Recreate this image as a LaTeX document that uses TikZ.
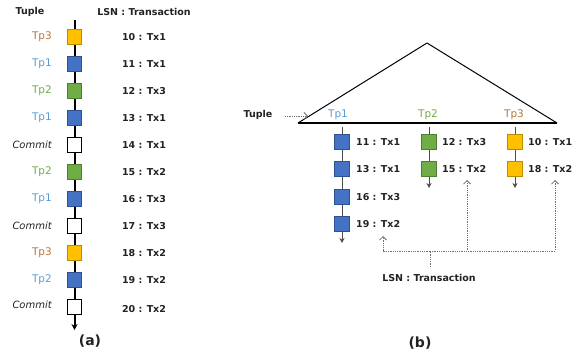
\documentclass[tikz,border=0pt]{standalone}
\usepackage{fontspec}
\setmainfont{DejaVu Sans}
\usetikzlibrary{arrows.meta}
\definecolor{txt}{HTML}{222222}
\definecolor{bfill}{HTML}{4472C4}\definecolor{bdraw}{HTML}{2F528F}
\definecolor{gfill}{HTML}{70AD47}\definecolor{gdraw}{HTML}{507E32}
\definecolor{yfill}{HTML}{FFC000}\definecolor{ydraw}{HTML}{BC8C00}
\definecolor{tpone}{HTML}{5B9BD5}
\definecolor{tptwo}{HTML}{70AD47}
\definecolor{tpthree}{HTML}{B8753E}
\definecolor{dotc}{HTML}{707070}
\tikzset{
  box/.style={minimum width=14.5pt,minimum height=14.5pt,inner sep=0pt,line width=0.6pt},
  bbox/.style={box,fill=bfill,draw=bdraw},
  gbox/.style={box,fill=gfill,draw=gdraw},
  ybox/.style={box,fill=yfill,draw=ydraw},
  wbox/.style={box,fill=white,draw=black,line width=0.8pt},
  bold/.style={font=\fontsize{9.5}{11}\selectfont\bfseries,text=txt,inner sep=0pt},
  tplab/.style={font=\fontsize{10.5}{12}\selectfont,inner sep=0pt,anchor=east},
  cmlab/.style={font=\fontsize{10}{12}\selectfont\itshape,text=txt,inner sep=0pt,anchor=east},
  lsn/.style={bold,anchor=center},
  blsn/.style={bold,anchor=west},
  captext/.style={font=\fontsize{14}{16}\selectfont\bfseries,text=txt,inner sep=0pt},
  col/.style={draw=black!70,line width=0.8pt,-{Stealth[length=5pt,width=5pt]}},
  dotarrow/.style={draw=dotc,densely dotted,line width=0.8pt,-{Straight Barb[length=3.5pt,width=7pt]}},
  dotline/.style={draw=dotc,densely dotted,line width=0.8pt}
}
\begin{document}
\begin{tikzpicture}[x=1pt,y=-1pt]
\useasboundingbox (0,0) rectangle (577,356);
% ---------- panel (a)
\node[bold] (atuple) at (30,12) {Tuple};
\node[bold] (alsnh) at (144,12) {LSN : Transaction};
\coordinate (atop) at (74.5,20);
\coordinate (abot) at (74.5,330);
\draw[line width=2pt,-{Stealth[length=6pt,width=6pt]}] (atop) -- (abot);
% rows
\node[ybox] (a1) at (74.5,37) {};  \node[tplab,text=tpthree] (l1) at (52,37) {Tp3};  \node[lsn] (t1) at (144,37) {10 : Tx1};
\node[bbox] (a2) at (74.5,64) {};  \node[tplab,text=tpone] (l2) at (52,64) {Tp1};    \node[lsn] (t2) at (144,64) {11 : Tx1};
\node[gbox] (a3) at (74.5,91) {};  \node[tplab,text=tptwo] (l3) at (52,91) {Tp2};    \node[lsn] (t3) at (144,91) {12 : Tx3};
\node[bbox] (a4) at (74.5,118) {}; \node[tplab,text=tpone] (l4) at (52,118) {Tp1};   \node[lsn] (t4) at (144,118) {13 : Tx1};
\node[wbox] (a5) at (74.5,145) {}; \node[cmlab] (l5) at (52,145) {Commit};          \node[lsn] (t5) at (144,145) {14 : Tx1};
\node[gbox] (a6) at (74.5,172) {}; \node[tplab,text=tptwo] (l6) at (52,172) {Tp2};   \node[lsn] (t6) at (144,172) {15 : Tx2};
\node[bbox] (a7) at (74.5,199) {}; \node[tplab,text=tpone] (l7) at (52,199) {Tp1};   \node[lsn] (t7) at (144,199) {16 : Tx3};
\node[wbox] (a8) at (74.5,226) {}; \node[cmlab] (l8) at (52,226) {Commit};          \node[lsn] (t8) at (144,226) {17 : Tx3};
\node[ybox] (a9) at (74.5,253) {}; \node[tplab,text=tpthree] (l9) at (52,253) {Tp3}; \node[lsn] (t9) at (144,253) {18 : Tx2};
\node[bbox] (a10) at (74.5,280) {};\node[tplab,text=tpone] (l10) at (52,280) {Tp2};  \node[lsn] (t10) at (144,280) {19 : Tx2};
\node[wbox] (a11) at (74.5,307) {};\node[cmlab] (l11) at (52,305) {Commit};         \node[lsn] (t11) at (144,309) {20 : Tx2};
\node[captext] (capa) at (90,341) {(a)};
% ---------- panel (b)
\coordinate (tl) at (298,123);
\coordinate (tt) at (427,43);
\coordinate (tr) at (557,123);
\draw[line width=1pt,line join=round] (tl) -- (tt) -- (tr);
\draw[line width=1.4pt] (tl) -- (tr);
\node[bold] (btuple) at (258,115) {Tuple};
\coordinate (tupa) at (285,116);
\coordinate (tupb) at (308,116);
\draw[dotarrow] (tupa) -- (tupb);
\node[font=\fontsize{10.5}{12}\selectfont,inner sep=0pt,text=tpone] (bh1) at (338,115) {Tp1};
\node[font=\fontsize{10.5}{12}\selectfont,inner sep=0pt,text=tptwo] (bh2) at (428,115) {Tp2};
\node[font=\fontsize{10.5}{12}\selectfont,inner sep=0pt,text=tpthree] (bh3) at (514,115) {Tp3};
% columns
\coordinate (c1t) at (342,127); \coordinate (c1b) at (342,243);
\coordinate (c2t) at (429,127); \coordinate (c2b) at (429,188);
\coordinate (c3t) at (515,127); \coordinate (c3b) at (515,188);
\draw[col] (c1t) -- (c1b);
\draw[col] (c2t) -- (c2b);
\draw[col] (c3t) -- (c3b);
\node[bbox] (b11) at (342,142) {}; \node[blsn] (bt11) at (356,142) {11 : Tx1};
\node[bbox] (b12) at (342,169) {}; \node[blsn] (bt12) at (356,169) {13 : Tx1};
\node[bbox] (b13) at (342,197) {}; \node[blsn] (bt13) at (356,197) {16 : Tx3};
\node[bbox] (b14) at (342,224) {}; \node[blsn] (bt14) at (356,224) {19 : Tx2};
\node[gbox] (b21) at (429,142) {}; \node[blsn] (bt21) at (442,142) {12 : Tx3};
\node[gbox] (b22) at (429,169) {}; \node[blsn] (bt22) at (442,169) {15 : Tx2};
\node[ybox] (b31) at (515,142) {}; \node[blsn] (bt31) at (528,142) {10 : Tx1};
\node[ybox] (b32) at (515,169) {}; \node[blsn] (bt32) at (528,169) {18 : Tx2};
% LSN pointer
\node[bold] (blsn) at (429,278) {LSN : Transaction};
\coordinate (hub) at (430,251);
\coordinate (lsntop) at (430,267);
\coordinate (u1) at (383,236);
\coordinate (u2) at (467,180);
\coordinate (u3) at (555,180);
\draw[dotline] (lsntop) -- (hub);
\draw[dotarrow] (hub) -| (u1);
\draw[dotarrow] (hub) -| (u2);
\draw[dotarrow] (hub) -| (u3);
\node[captext] (capb) at (420,343) {(b)};
\end{tikzpicture}
\end{document}
